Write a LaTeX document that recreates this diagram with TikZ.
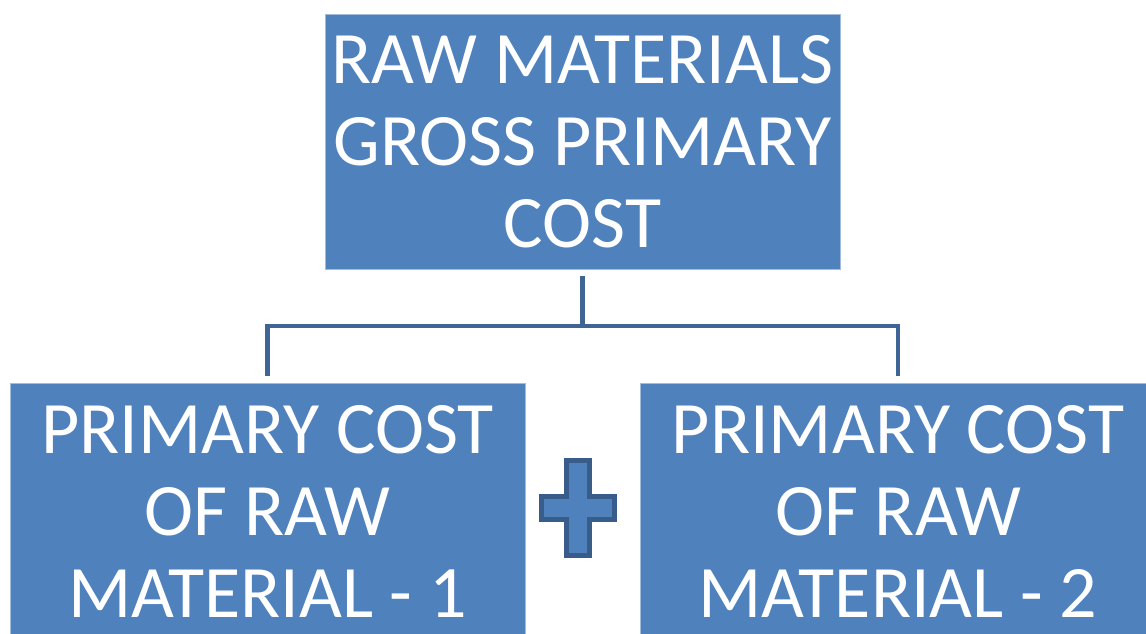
\documentclass[tikz,border=0pt]{standalone}
\usepackage{fontspec}
\setmainfont{Carlito}
\usetikzlibrary{calc}
\definecolor{boxBlue}{HTML}{4F81BD}
\definecolor{boxEdge}{HTML}{A3BCDB}
\definecolor{lineBlue}{HTML}{3E6595}
\definecolor{plusEdge}{HTML}{385D8A}
\tikzset{
  costbox/.style = {rectangle, fill=boxBlue, draw=boxEdge, line width=1pt,
    text=white, align=center, minimum width=#1, minimum height=255pt,
    inner sep=0pt, font=\fontsize{74}{82}\selectfont},
  link/.style = {color=#1, line width=4.5pt},
  plusmark/.style = {fill=boxBlue, draw=plusEdge, line width=5pt}
}
\newcommand{\plusSign}[2][]{%
  % #1: optional keys
  % #2: centre of the sign
  \begin{scope}[shift={(#2)}, #1]
    \draw[plusmark] (-11.5,-47.5) -- (11.5,-47.5) -- (11.5,-11.5) -- (36.5,-11.5)
      -- (36.5,11.5) -- (11.5,11.5) -- (11.5,47.5) -- (-11.5,47.5) -- (-11.5,11.5)
      -- (-36.5,11.5) -- (-36.5,-11.5) -- (-11.5,-11.5) -- cycle;
  \end{scope}
}
\begin{document}
\begin{tikzpicture}[x=1pt, y=-1pt]

    \useasboundingbox (0,0) rectangle (1146,633);

    % Boxes
    \node[costbox=515pt] (gross) at (582.5,141.5) {RAW MATERIALS\\GROSS PRIMARY\\COST};
    \node[costbox=515pt] (mat1) at (267.5,511) {PRIMARY COST\\OF RAW\\MATERIAL - 1};
    \node[costbox=516pt] (mat2) at (898,511) {PRIMARY COST\\OF RAW\\MATERIAL - 2};

    % Coordinates
    \coordinate (fork) at (gross.south |- 0,326);

    % Connectors
    \draw[link={lineBlue}, shorten <=6pt] (gross.south) -- (fork);
    \draw[link={lineBlue}, shorten >=7pt] (fork) -| (mat1.north);
    \draw[link={lineBlue}, shorten >=7pt] (fork) -| (mat2.north);

    % Sum
    \plusSign{578,508}

\end{tikzpicture}
\end{document}
